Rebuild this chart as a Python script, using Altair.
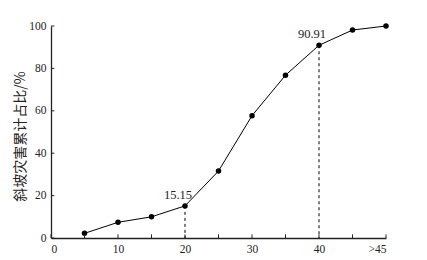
import altair as alt
import pandas as pd

x_pos = [5, 10, 15, 20, 25, 30, 35, 40, 45, 50]
values = [2.2, 7.4, 10.0, 15.15, 31.6, 57.7, 76.8, 90.91, 98.1, 100.0]
x_tick_values = [0, 5, 10, 15, 20, 25, 30, 35, 40, 45, 50]
x_tick_labels = ["0", "5", "10", "15", "20", "25", "30", "35", "40", "45", ">45"]
y_tick_values = [0, 20, 40, 60, 80, 100]
ann_x = [20, 40]
ann_y = [15.15, 90.91]
ann_text = ["15.15", "90.91"]
y_title = "斜坡灾害累计占比/%"

df = pd.DataFrame({"x": x_pos, "y": values})
ann = pd.DataFrame({"x": ann_x, "y": ann_y, "t": ann_text})
xt = pd.DataFrame({"v": x_tick_values})
yt = pd.DataFrame({"v": y_tick_values})

label_expr = " : ".join(
    f"datum.value == {v} ? '{l}'" for v, l in zip(x_tick_values, x_tick_labels)
) + " : ''"

xscale = alt.Scale(domain=[0, 50], nice=False, zero=False)
yscale = alt.Scale(domain=[0, 100], nice=False)

font = "Liberation Serif, Times New Roman, serif"

xaxis = alt.Axis(values=x_tick_values, labelExpr=label_expr, title=None, ticks=False,
                 grid=False, domainColor="#222", domainWidth=1.3, labelFont=font,
                 labelFontSize=11.5, labelColor="#222", labelPadding=5)
yaxis = alt.Axis(values=y_tick_values, title=y_title, ticks=False, grid=False,
                 domainColor="#222", domainWidth=1.3, labelFont=font, labelFontSize=11.5,
                 labelColor="#222", labelPadding=5, titleFont="Noto Sans CJK SC",
                 titleFontSize=14, titleFontWeight="normal", titleColor="#222",
                 titleX=-31, titleY=110, titleAlign="center", titleBaseline="middle",
                 titleAngle=270)

base_x = alt.X("x:Q", scale=xscale, axis=xaxis)
base_y = alt.Y("y:Q", scale=yscale, axis=yaxis)

line = alt.Chart(df).mark_line(color="black", strokeWidth=1).encode(x=base_x, y=base_y)
pts = alt.Chart(df).mark_circle(color="black", size=30, opacity=1).encode(
    x=alt.X("x:Q", scale=xscale), y=alt.Y("y:Q", scale=yscale))

dash = alt.Chart(ann).mark_rule(color="black", strokeDash=[3, 3], strokeWidth=1).encode(
    x=alt.X("x:Q", scale=xscale), y=alt.Y("y:Q", scale=yscale), y2=alt.datum(0))

txt = alt.Chart(ann).mark_text(font=font, fontSize=12.5, color="#222", dx=-7, dy=-11,
                               align="center").encode(
    x=alt.X("x:Q", scale=xscale), y=alt.Y("y:Q", scale=yscale), text="t:N")

xticks = alt.Chart(xt).mark_rule(color="#222", strokeWidth=1).encode(
    x=alt.X("v:Q", scale=xscale), y=alt.datum(0), y2=alt.datum(1.7))
yticks = alt.Chart(yt).mark_rule(color="#222", strokeWidth=1).encode(
    y=alt.Y("v:Q", scale=yscale), x=alt.datum(0), x2=alt.datum(0.5))

chart = alt.layer(line, dash, pts, txt, xticks, yticks).properties(
    width=335, height=212,
    autosize=alt.AutoSizeParams(type="none"),
    padding={"left": 43, "top": 18, "right": 30, "bottom": 30},
    background="white",
).configure_view(stroke=None)

chart.save("out.html", embed_options={"renderer": "svg", "actions": False})
